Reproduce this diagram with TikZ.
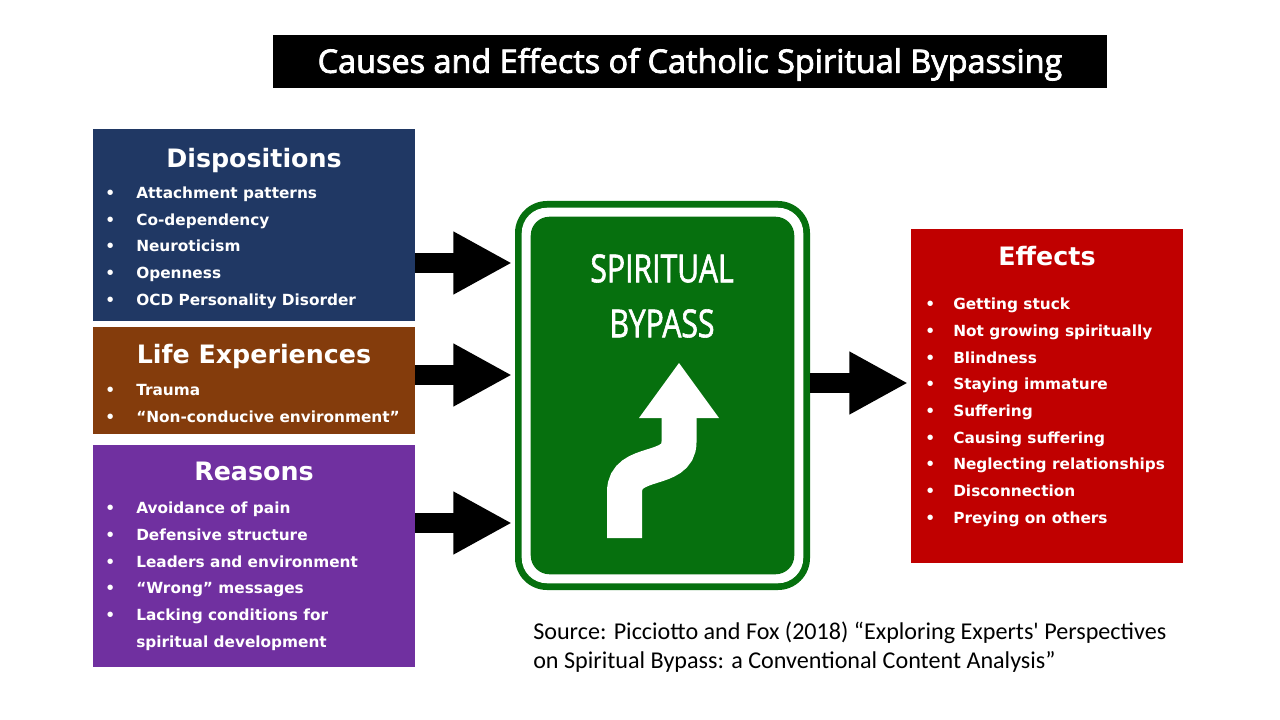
\documentclass[tikz,border=0pt]{standalone}
\usepackage{fontspec}
\usetikzlibrary{arrows.meta}
\newfontfamily\boxfont{DejaVu Sans}
\newfontfamily\titlefont[FakeBold=2.5]{Open Sans}
\newfontfamily\signfont[FakeStretch=0.78,FakeBold=1.5]{Open Sans}
\newfontfamily\srcfont{Carlito}
\definecolor{dispblue}{RGB}{32,56,100}
\definecolor{lifebrown}{RGB}{132,60,12}
\definecolor{reaspurple}{RGB}{112,48,160}
\definecolor{effred}{RGB}{192,0,0}
\definecolor{signgreen}{RGB}{6,112,14}

\begin{document}
\begin{tikzpicture}[x=0.75pt, y=-0.75pt,
  panel/.style={fill=#1, inner sep=0pt},
  head/.style={text=white, anchor=base, inner sep=0pt, font=\boxfont\bfseries\fontsize{19pt}{23pt}\selectfont},
  list/.style={text=white, anchor=north west, inner sep=0pt, font=\boxfont\bfseries\fontsize{11.5pt}{20pt}\selectfont},
  blockarrow/.style={line width=15pt, -{Triangle[length=44pt,width=44pt]}}]
\useasboundingbox (0,0) rectangle (1280,720);
\fill[white] (0,0) rectangle (1280,720);
\node[fill=black, text=white, inner sep=0pt, minimum width=625.5pt, minimum height=39.75pt, text height=17pt, text depth=0pt, font=\titlefont\fontsize{24.3pt}{28pt}\selectfont] (title) at (690,61.5) {Causes and Effects of Catholic Spiritual Bypassing};

\node[panel=dispblue, minimum width=241.5pt, minimum height=144pt] (disp) at (254,225) {};
\node[head] (dispHead) at (254,168) {Dispositions};
\node[list] (dispList) at (105,179.6) {\begin{tabular}{@{}p{23.25pt}@{}l@{}}
\textbullet & Attachment patterns\\
\textbullet & Co-dependency\\
\textbullet & Neuroticism\\
\textbullet & Openness\\
\textbullet & OCD Personality Disorder
\end{tabular}};

\node[panel=lifebrown, minimum width=241.5pt, minimum height=80.25pt] (life) at (254,380.5) {};
\node[head] (lifeHead) at (254,363) {Life Experiences};
\node[list] (lifeList) at (105,376.8) {\begin{tabular}{@{}p{23.25pt}@{}l@{}}
\textbullet & Trauma\\
\textbullet & “Non-conducive environment”
\end{tabular}};

\node[panel=reaspurple, minimum width=241.5pt, minimum height=166.5pt] (reas) at (254,556) {};
\node[head] (reasHead) at (254,480) {Reasons};
\node[list] (reasList) at (105,494.8) {\begin{tabular}{@{}p{23.25pt}@{}l@{}}
\textbullet & Avoidance of pain\\
\textbullet & Defensive structure\\
\textbullet & Leaders and environment\\
\textbullet & “Wrong” messages\\
\textbullet & Lacking conditions for\\
 & spiritual development
\end{tabular}};

\node[panel=effred, minimum width=204pt, minimum height=250.5pt] (eff) at (1047,396) {};
\node[head] (effHead) at (1047,265) {Effects};
\node[list] (effList) at (925,290.8) {\begin{tabular}{@{}p{21pt}@{}l@{}}
\textbullet & Getting stuck\\
\textbullet & Not growing spiritually\\
\textbullet & Blindness\\
\textbullet & Staying immature\\
\textbullet & Suffering\\
\textbullet & Causing suffering\\
\textbullet & Neglecting relationships\\
\textbullet & Disconnection\\
\textbullet & Preying on others
\end{tabular}};

\node[panel=signgreen, minimum width=221.25pt, minimum height=291.75pt, rounded corners=24pt] (sign) at (662.5,395.5) {};
\fill[white, rounded corners=19pt] ([shift={(5.25pt,-5.25pt)}]sign.north west) rectangle ([shift={(-5.25pt,5.25pt)}]sign.south east);
\fill[signgreen, rounded corners=14pt] ([shift={(12pt,-12pt)}]sign.north west) rectangle ([shift={(-12pt,12pt)}]sign.south east);
\node[text=white, anchor=north, inner sep=0pt, align=center, font=\signfont\fontsize{29pt}{41.25pt}\selectfont] (signText) at (662,254) {SPIRITUAL\\BYPASS};
\draw[white, line width=26.25pt] (624.5,538) -- (624.5,492) .. controls (624.5,458) and (679,474) .. (679,442) -- (679,416);
\fill[white] (639,418) -- (719,418) -- (679,363) -- cycle;

\coordinate (in1) at (512,263);
\coordinate (in2) at (512,375);
\coordinate (in3) at (512,523);
\coordinate (out) at (908,383);
\draw[blockarrow] (disp.east |- in1) -- (in1);
\draw[blockarrow] (life.east |- in2) -- (in2);
\draw[blockarrow] (reas.east |- in3) -- (in3);
\draw[blockarrow] (sign.east |- out) -- (out);

\node[anchor=north west, inner sep=0pt, align=left, font=\srcfont\fontsize{18.1pt}{22pt}\selectfont] (src) at (533,621.5) {Source: Picciotto and Fox (2018) “Exploring Experts' Perspectives\\on Spiritual Bypass: a Conventional Content Analysis”};
\end{tikzpicture}
\end{document}
